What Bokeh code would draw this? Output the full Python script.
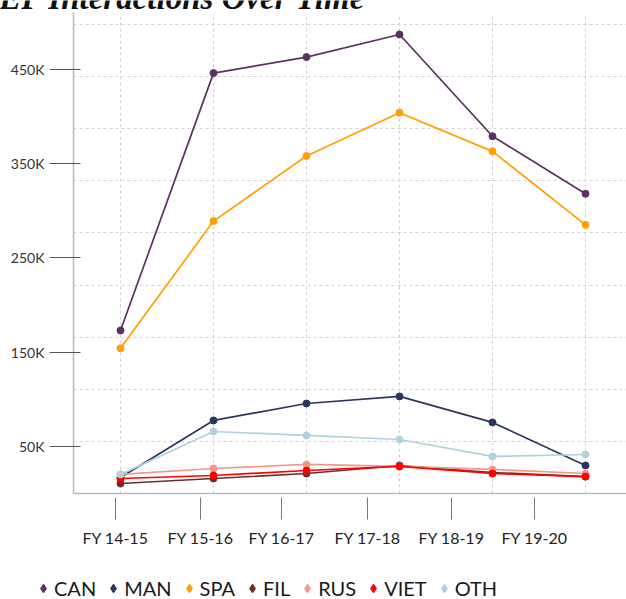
from bokeh.plotting import figure
from bokeh.models import Range1d, FixedTicker, Legend, LegendItem, Label
from bokeh.embed import file_html
from bokeh.resources import INLINE

# ---- data -------------------------------------------------------------
periods = ["FY 14-15", "FY 15-16", "FY 16-17", "FY 17-18", "FY 18-19", "FY 19-20"]
CAN = [173000, 446000, 463000, 487000, 379000, 318000]
MAN = [17000, 77500, 95500, 103000, 75400, 29700]
SPA = [154000, 289000, 358000, 404000, 363000, 285000]
FIL = [10600, 15900, 21200, 29700, 22300, 18000]
RUS = [20200, 26500, 30800, 28700, 25500, 21200]
VIET = [15900, 19100, 24400, 28700, 21200, 18000]
OTH = [20200, 65800, 61600, 57300, 39300, 41400]
series_names = ["CAN", "MAN", "SPA", "FIL", "RUS", "VIET", "OTH"]
y_ticks = [50000, 150000, 250000, 350000, 450000]
y_tick_labels = ["50K", "150K", "250K", "350K", "450K"]
title_text = "LEP Interactions Over Time"

# ---- styling / layout -------------------------------------------------
colors = ["#5b3163", "#2b3660", "#ffa000", "#6c2e2e", "#f3978a", "#ff0000", "#aed4db"]
x_tick_pos = [-0.054, 0.86, 1.731, 2.656, 3.559, 4.452]   # axis ticks (offset from points)
y_grid_step = 55300
FONT = "Lato"
W = 626

values = [CAN, MAN, SPA, FIL, RUS, VIET, OTH]
xs = list(range(len(periods)))


def blank_fig(h):
    f = figure(width=W, height=h, output_backend="svg", toolbar_location=None,
               title=None, x_range=Range1d(0, 1), y_range=Range1d(0, 1),
               x_axis_location=None, y_axis_location=None,
               min_border=0, outline_line_color=None,
               background_fill_color="white", border_fill_color="white")
    f.grid.visible = False
    return f


# ---- title strip (cut off at the top, as in the reference) -----------
tfig = blank_fig(12)
tfig.add_layout(Label(text=title_text, x=365, y=15, x_units="screen", y_units="screen",
                      text_align="right", text_baseline="alphabetic",
                      text_font="Liberation Serif", text_font_style="bold italic",
                      text_font_size="33px", text_color="#111111"))

# ---- main plot --------------------------------------------------------
p = figure(width=W, height=553, output_backend="svg", toolbar_location=None,
           title=None,
           x_range=Range1d(-0.5054, 5.4409), y_range=Range1d(0, 510300),
           min_border_left=73, min_border_right=0, min_border_top=0,
           min_border_bottom=72, outline_line_color=None,
           background_fill_color="white", border_fill_color="white")

p.xgrid.ticker = FixedTicker(ticks=xs)
p.ygrid.ticker = FixedTicker(ticks=[y_grid_step * i for i in range(1, 10)])
for g in (p.xgrid, p.ygrid):
    g.grid_line_color = "#d2d2d2"
    g.grid_line_dash = "3 3"
    g.grid_line_width = 1

xa = p.xaxis[0]
xa.ticker = FixedTicker(ticks=x_tick_pos)
xa.major_label_overrides = {t: lab for t, lab in zip(x_tick_pos, periods)}
xa.axis_line_color = "#b5babf"
xa.axis_line_width = 1.5
xa.major_tick_line_color = "#777777"
xa.major_tick_in = -4
xa.major_tick_out = 26
xa.minor_tick_line_color = None
xa.major_label_standoff = 8
xa.major_label_text_font = FONT
xa.major_label_text_font_size = "16px"
xa.major_label_text_color = "#222222"

ya = p.yaxis[0]
ya.ticker = FixedTicker(ticks=y_ticks)
ya.major_label_overrides = {t: lab for t, lab in zip(y_ticks, y_tick_labels)}
ya.axis_line_color = "#b5babf"
ya.axis_line_width = 1.5
ya.major_tick_line_color = "#555555"
ya.major_tick_in = 7
ya.major_tick_out = 24
ya.minor_tick_line_color = None
ya.major_label_standoff = 5
ya.major_label_text_font = FONT
ya.major_label_text_font_size = "14px"
ya.major_label_text_color = "#333333"

for name, vals, c in zip(series_names, values, colors):
    p.line(xs, vals, line_color=c, line_width=1.7)
    p.scatter(xs, vals, marker="circle", size=7, fill_color=c, line_color=c)

# ---- legend strip -----------------------------------------------------
lfig = blank_fig(34)
items = []
for name, c in zip(series_names, colors):
    d = lfig.scatter([float("nan")], [float("nan")], marker="diamond",
                     fill_color=c, line_color=c)
    items.append(LegendItem(label=name, renderers=[d]))
legend = Legend(items=items, orientation="horizontal", location=(32, -1),
                glyph_width=22, glyph_height=24, label_standoff=0, spacing=6,
                padding=0, margin=0, border_line_color=None,
                background_fill_alpha=0, label_text_font=FONT,
                label_text_font_size="20px", label_text_color="#1a1a1a")
lfig.add_layout(legend)

open("out.html", "w").write(file_html([tfig, p, lfig], INLINE))
